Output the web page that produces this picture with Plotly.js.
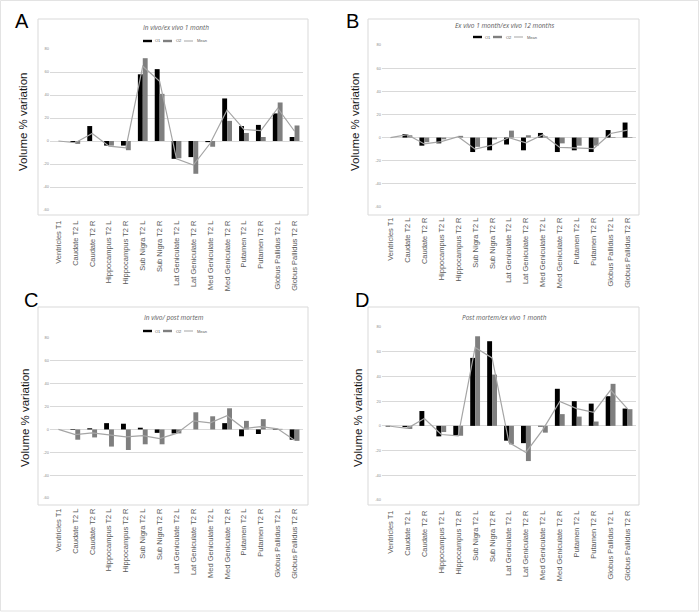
<!DOCTYPE html>
<html>
<head>
<meta charset="utf-8">
<script src="https://cdn.plot.ly/plotly-3.0.1.min.js"></script>
<style>html,body{margin:0;padding:0;background:#fff;}#chart{width:700px;height:612px;}</style>
</head>
<body>
<div id="chart"></div>
<script>
// ---------- data ----------
const categories = ["Ventricles T1","Caudate T2 L","Caudate T2 R","Hippocampus T2 L","Hippocampus T2 R",
  "Sub Nigra T2 L","Sub Nigra T2 R","Lat Geniculate T2 L","Lat Geniculate T2 R","Med Geniculate T2 L",
  "Med Geniculate T2 R","Putamen T2 L","Putamen T2 R","Globus Pallidus T2 L","Globus Pallidus T2 R"];
const seriesNames = ["O1","O2","Mean"];
const yTicks = [-60,-40,-20,0,20,40,60,80];

const aO1   = [0,-1,13,-4,-4,58,62.5,-15.5,-14,-1,37,13,14,24,3.5];
const aO2   = [0,-2.5,0,-4,-8,72,41,-15,-28.5,-5,17.5,7,3.5,33.5,13.5];
const aMean = [0,-1.5,6.5,-4.5,-6,65,52,-15.5,-21,-2,27,10,9,28.5,8.5];

const bO1   = [0,3,-7,-5,0,-12.5,-11,-6,-11,4,-12.5,-11,-12.5,6.5,13];
const bO2   = [0,2,-4,-1.5,1.5,-8,-1.5,6,2,1,-5,-7,-7,0.5,0.5];
const bMean = [0,2.5,-5.5,-3.5,0.7,-10,-6.5,0,-4.5,2.5,-8.5,-9,-9.5,3.5,6.5];

const cO1   = [0,-0.5,1,5.5,5,1.5,-3,-3.5,0,0,5.5,-6,-4,0.5,-9];
const cO2   = [0,-9,-7,-15,-18,-13,-13,-3.5,15,11.5,18.5,7.5,9,0.5,-10];
const cMean = [0,-4.5,-3,-5,-6.5,-5.5,-8,-3.5,7.5,5.8,12,0.8,2.5,0.5,-9.5];

const dO1   = [-0.5,-1,12,-8.5,-7.5,55,68.5,-12,-14,-0.5,30,20,18,24,14];
const dO2   = [0,-2.5,0,-5,-8,72.5,41.5,-15,-28.5,-5.5,9.5,7.5,3.5,34,13.5];
const dMean = [-0.3,-2,6,-7,-8,63.5,55,-13.5,-21.5,-3,19.7,14,11,29,13.7];

const panelTitles = ["In vivo/ex vivo 1 month","Ex vivo 1 month/ex vivo 12 months","In vivo/ post mortem","Post mortem/ex vivo 1 month"];
const panelLetters = ["A","B","C","D"];
const yTitle = "Volume % variation";

// ---------- layout geometry (pixels) ----------
const W = 700, H = 612;
const fx = v => v / W;
const fy = v => 1 - v / H;
const panels = [
  {o1:aO1,o2:aO2,m:aMean, plot:[50,303,49,210],  box:[38,19,308,215],  title:[176,28],  legend:[174,41],  letter:[22,21],  ytitle:[23,122]},
  {o1:bO1,o2:bO2,m:bMean, plot:[382,636,45,207], box:[368,19,639,215], title:[504,26],  legend:[504,37],  letter:[352,21], ytitle:[355,122]},
  {o1:cO1,o2:cO2,m:cMean, plot:[50,303,338,498], box:[38,307,308,505], title:[174,317], legend:[174,331], letter:[31,300], ytitle:[25,418]},
  {o1:dO1,o2:dO2,m:dMean, plot:[382,636,327,500],box:[368,307,639,505],title:[504,317], legend:null,      letter:[362,300], ytitle:[358,418]}
];

const C_O1 = "#000000", C_O2 = "#7f7f7f", C_M = "#a5a5a5", C_GRID = "#d9d9d9", C_TXT = "#595959";

const traces = [];
const layout = {
  width: W, height: H,
  margin: {l:0, r:0, t:0, b:0},
  paper_bgcolor: "#fff", plot_bgcolor: "#fff",
  showlegend: false,
  barmode: "group", bargap: 0.42, bargroupgap: 0,
  font: {family: "Liberation Sans, Arial, sans-serif", color: C_TXT},
  shapes: [], annotations: []
};

// outer image frame
layout.shapes.push({type:"rect", xref:"paper", yref:"paper", x0:fx(0.5), x1:fx(698.5), y0:fy(611), y1:fy(0.5),
  line:{color:"#e3e3e3", width:1}, layer:"below"});

panels.forEach((p, i) => {
  const n = i === 0 ? "" : String(i + 1);
  const xa = "x" + n, ya = "y" + n;
  traces.push({type:"bar", name:seriesNames[0], x:categories, y:p.o1, xaxis:xa, yaxis:ya,
    marker:{color:C_O1, line:{width:0}}, offsetgroup:"1", hoverinfo:"skip"});
  traces.push({type:"bar", name:seriesNames[1], x:categories, y:p.o2, xaxis:xa, yaxis:ya,
    marker:{color:C_O2, line:{width:0}}, offsetgroup:"2", hoverinfo:"skip"});
  traces.push({type:"scatter", mode:"lines", name:seriesNames[2], x:categories, y:p.m, xaxis:xa, yaxis:ya,
    line:{color:C_M, width:1.2}, hoverinfo:"skip"});

  layout["xaxis" + n] = {
    domain:[fx(p.plot[0]), fx(p.plot[1])], anchor:ya, type:"category",
    tickangle:-90, tickfont:{size:7.5, color:C_TXT, family:"Liberation Sans, Arial, sans-serif"},
    ticks:"", showline:false, showgrid:false, zeroline:false, ticklabelstandoff:8, fixedrange:true
  };
  layout["yaxis" + n] = {
    domain:[fy(p.plot[3]), fy(p.plot[2])], anchor:xa, range:[-60,80],
    tickvals:yTicks, ticktext:yTicks.map(String),
    tickfont:{size:4, color:"#8c8c8c"}, ticks:"", showline:false,
    showgrid:true, gridcolor:C_GRID, gridwidth:1,
    zeroline:true, zerolinecolor:C_GRID, zerolinewidth:1, fixedrange:true
  };

  // panel frame
  layout.shapes.push({type:"rect", xref:"paper", yref:"paper",
    x0:fx(p.box[0]), x1:fx(p.box[2]), y0:fy(p.box[3]), y1:fy(p.box[1]),
    line:{color:"#d9d9d9", width:1}, layer:"below"});

  // panel title
  layout.annotations.push({xref:"paper", yref:"paper", x:fx(p.title[0]), y:fy(p.title[1]),
    xanchor:"center", yanchor:"middle", showarrow:false, text:"<i>" + panelTitles[i] + "</i>",
    font:{size:6.5, color:C_TXT, family:"Open Sans, DejaVu Sans, sans-serif"}});

  // panel letter
  layout.annotations.push({xref:"paper", yref:"paper", x:fx(p.letter[0]), y:fy(p.letter[1]),
    xanchor:"center", yanchor:"middle", showarrow:false, text:panelLetters[i],
    font:{size:20, color:"#000", family:"Liberation Sans, Arial, sans-serif"}});

  // y axis title
  layout.annotations.push({xref:"paper", yref:"paper", x:fx(p.ytitle[0]), y:fy(p.ytitle[1]),
    xanchor:"center", yanchor:"middle", showarrow:false, text:yTitle, textangle:-90,
    font:{size:11.5, color:"#1a1a1a", family:"Liberation Sans, Arial, sans-serif"}});

  // compact legend
  if (p.legend) {
    const x0 = p.legend[0] - 31, yc = p.legend[1];
    layout.shapes.push({type:"rect", xref:"paper", yref:"paper", x0:fx(x0), x1:fx(x0+9), y0:fy(yc+1.2), y1:fy(yc-1.2),
      fillcolor:C_O1, line:{width:0}});
    layout.shapes.push({type:"rect", xref:"paper", yref:"paper", x0:fx(x0+20), x1:fx(x0+29), y0:fy(yc+1.2), y1:fy(yc-1.2),
      fillcolor:C_O2, line:{width:0}});
    layout.shapes.push({type:"line", xref:"paper", yref:"paper", x0:fx(x0+41), x1:fx(x0+50), y0:fy(yc), y1:fy(yc),
      line:{color:C_M, width:1}});
    [[seriesNames[0], 10],[seriesNames[1], 31],[seriesNames[2], 52]].forEach(([t, off]) => {
      layout.annotations.push({xref:"paper", yref:"paper", x:fx(x0+off), y:fy(yc), xanchor:"left", yanchor:"middle",
        showarrow:false, text:t, font:{size:4, color:C_TXT}});
    });
  }
});

Plotly.newPlot("chart", traces, layout, {displayModeBar:false, staticPlot:true});
</script>
</body>
</html>
